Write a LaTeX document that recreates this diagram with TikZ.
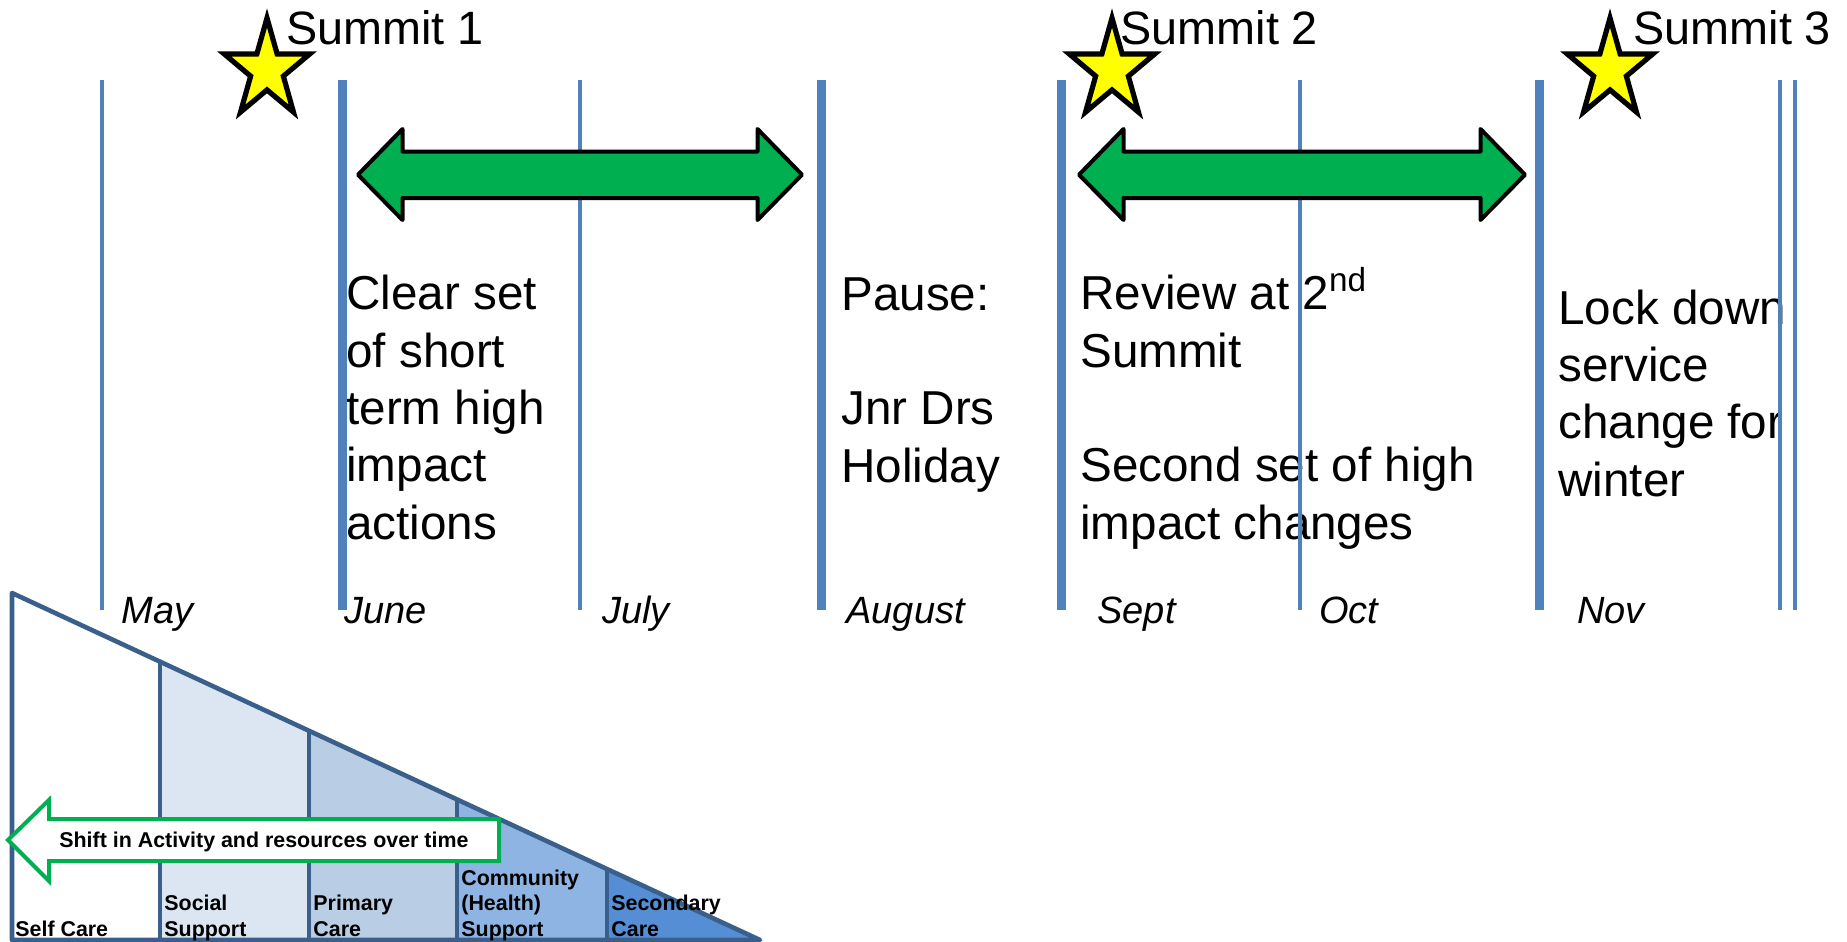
\documentclass[tikz,border=0pt]{standalone}
\usepackage{fontspec}
\setmainfont{Liberation Sans}
\definecolor{monthblue}{HTML}{4F81BD}
\definecolor{phasegreen}{HTML}{00B050}
\definecolor{starfill}{HTML}{FFFF00}
\definecolor{pyramidedge}{HTML}{3A5F8B}
\definecolor{socialfill}{HTML}{DCE6F2}
\definecolor{primaryfill}{HTML}{B9CDE5}
\definecolor{communityfill}{HTML}{8EB4E3}
\definecolor{secondaryfill}{HTML}{558ED5}
\tikzset{
  monththin/.style={monthblue, line width=2.25pt},
  monththick/.style={monthblue, line width=4.5pt},
  phasearrow/.style={fill=phasegreen, draw=black, line width=2pt, line join=round},
  summitstar/.style={fill=starfill, draw=black, line width=2.6pt, line join=miter},
  bigtext/.style={anchor=base west, inner sep=0pt, align=left, font=\fontsize{23.8pt}{28.65pt}\selectfont},
  monthlabel/.style={anchor=base west, inner sep=0pt, font=\fontsize{19pt}{23pt}\selectfont\itshape},
  pyramidlabel/.style={anchor=base west, inner sep=0pt, align=left, font=\fontsize{10.7pt}{12.65pt}\selectfont\bfseries},
  pyramidline/.style={draw=pyramidedge, line width=2.3pt, line join=round},
  shiftarrow/.style={fill=white, draw=phasegreen, line width=2pt, line join=miter},
}
\begin{document}
\begin{tikzpicture}[x=0.5pt, y=-0.5pt]
\useasboundingbox (0,0) rectangle (1847,942);
\def \ltop{80};
\def \lbot{610};
% texts of the phases (placed at the baseline of the last line)
\node[bigtext] (clear) at (346,539) {Clear set\\of short\\term high\\impact\\actions};
\node[bigtext] (pause) at (841,482) {Pause:\\\mbox{}\\Jnr Drs\\Holiday};
\node[bigtext] (review) at (1080,539) {Review at 2\textsuperscript{nd}\\Summit\\\mbox{}\\Second set of high\\impact changes};
\node[bigtext] (lock) at (1558,496) {Lock down\\service\\change for\\winter};
% month lines
\foreach \xx in {102,580,1300,1780,1795}
  \draw[monththin] (\xx,\ltop) -- (\xx,\lbot);
\foreach \xx in {342,821,1061,1539.5}
  \draw[monththick] (\xx,\ltop) -- (\xx,\lbot);
% months
\node[monthlabel] (may) at (121,623) {May};
\node[monthlabel] (june) at (344,623) {June};
\node[monthlabel] (july) at (602,623) {July};
\node[monthlabel] (aug) at (846,623) {August};
\node[monthlabel] (sept) at (1097,623) {Sept};
\node[monthlabel] (oct) at (1319,623) {Oct};
\node[monthlabel] (nov) at (1577,623) {Nov};
% phase arrows
\foreach \la/\ra in {358/802,1079/1525}
  \draw[phasearrow] (\la,174.7) -- (\la+44.5,129) -- (\la+44.5,151.5) -- (\ra-44.5,151.5)
    -- (\ra-44.5,129) -- (\ra,174.7) -- (\ra-44.5,220) -- (\ra-44.5,198)
    -- (\la+44.5,198) -- (\la+44.5,220) -- cycle;
% summits
\foreach \sx/\nm/\tx in {267/1/286,1112/2/1120,1610/3/1633} {
  \coordinate (star\nm) at (\sx,70);
  \draw[summitstar, shift={(star\nm)}] (0,-52)
    \foreach \k [evaluate=\k as \rx using {45-27.8*mod(\k,2)},
                 evaluate=\k as \ry using {52-32.1*mod(\k,2)}] in {1,...,9}
      { -- ({\rx*cos(270+36*\k)},{\ry*sin(270+36*\k)}) } -- cycle;
  \node[bigtext, font=\fontsize{23.4pt}{28pt}\selectfont] (summit\nm) at (\tx,44) {Summit \nm};
}
% pyramid of care
\coordinate (apex) at (12,593);
\coordinate (base) at (12,940);
\coordinate (tip) at (760,940);
\fill[socialfill] (160,661.7) -- (309,730.8) -- (309,940) -- (160,940) -- cycle;
\fill[primaryfill] (309,730.8) -- (457,799.4) -- (457,940) -- (309,940) -- cycle;
\fill[communityfill] (457,799.4) -- (607,869) -- (607,940) -- (457,940) -- cycle;
\fill[secondaryfill] (607,869) -- (tip) -- (607,940) -- cycle;
\draw[pyramidline] (apex) -- (tip) -- (base) -- cycle;
\foreach \dx/\dy in {160/661.7,309/730.8,457/799.4,607/869}
  \draw[pyramidline] (\dx,\dy) -- (\dx,940);
\node[pyramidlabel] (selfcare) at (15,936) {Self Care};
\node[pyramidlabel] (social) at (164,936) {Social\\Support};
\node[pyramidlabel] (primary) at (313,936) {Primary\\Care};
\node[pyramidlabel] (community) at (461,936) {Community\\(Health)\\Support};
\node[pyramidlabel] (secondary) at (611,936) {Secondary\\Care};
% shift arrow
\draw[shiftarrow] (8,840) -- (49,800) -- (49,819) -- (499,819) -- (499,861)
  -- (49,861) -- (49,881) -- cycle;
\node[anchor=base west, inner sep=0pt, font=\fontsize{10.7pt}{13pt}\selectfont\bfseries] (shift) at (59,847) {Shift in Activity and resources over time};
\end{tikzpicture}
\end{document}
